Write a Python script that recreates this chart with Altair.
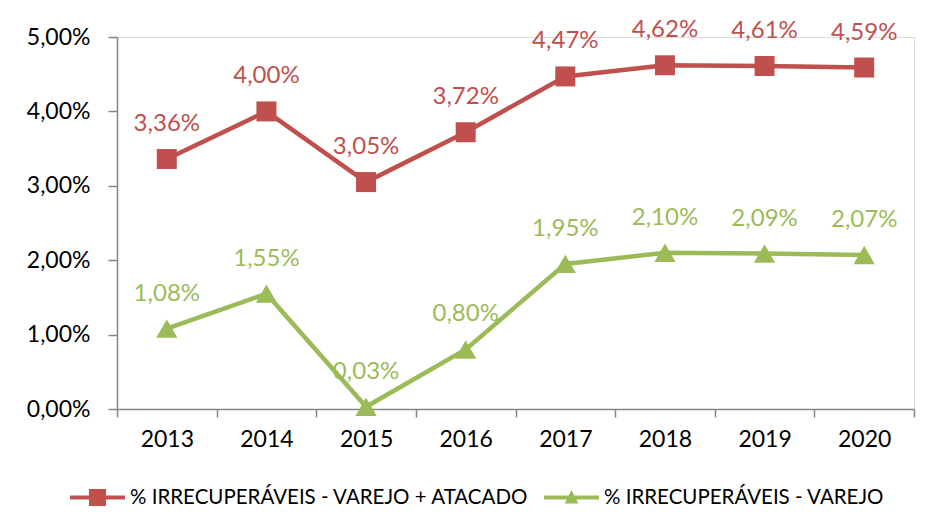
import altair as alt
import pandas as pd

anos = ["2013", "2014", "2015", "2016", "2017", "2018", "2019", "2020"]
varejo_atacado = [3.36, 4.00, 3.05, 3.72, 4.47, 4.62, 4.61, 4.59]
varejo = [1.08, 1.55, 0.03, 0.80, 1.95, 2.10, 2.09, 2.07]
series = ["% IRRECUPERÁVEIS - VAREJO + ATACADO", "% IRRECUPERÁVEIS - VAREJO"]
cores = ["#C0504D", "#9BBB59"]
marcadores = ["square", "triangle-up"]
tamanhos = [400, 450]
y_ticks = [0.0, 0.01, 0.02, 0.03, 0.04, 0.05]

# legend symbols: line with marker in the middle
leg_sq = "M-1,-0.073L1,-0.073L1,0.073L-1,0.073Z M-0.31,-0.31L0.31,-0.31L0.31,0.31L-0.31,0.31Z"
leg_tri = "M-1,-0.073L1,-0.073L1,0.073L-1,0.073Z M0,-0.27L0.25,0.22L-0.25,0.22Z"

rows = []
for s, vals in zip(series, [varejo_atacado, varejo]):
    for a, v in zip(anos, vals):
        rows.append({"ano": a, "serie": s, "valor": v / 100})
df = pd.DataFrame(rows)

FONT = "Lato"
AX = "#868686"

x_enc = alt.X(
    "ano:N",
    scale=alt.Scale(type="band", domain=anos, paddingInner=0, paddingOuter=0),
    axis=alt.Axis(
        title=None, labelAngle=0, tickBand="extent", domainColor=AX, tickColor=AX,
        domainWidth=1.5, tickWidth=1.5, tickSize=8, labelFontSize=23, labelFont=FONT,
        labelColor="#000000", labelPadding=11, grid=False,
    ),
)
y_enc = alt.Y(
    "valor:Q",
    scale=alt.Scale(domain=[0, 0.05], nice=False, zero=True),
    axis=alt.Axis(
        title=None, values=y_ticks, format=".2%", domainColor=AX, tickColor=AX,
        domainWidth=1.5, tickWidth=1.5, tickSize=9, labelFontSize=23, labelFont=FONT,
        labelColor="#000000", labelPadding=18, grid=False,
    ),
)

base = alt.Chart(df)
layers = []
for s, c in zip(series, cores):
    layers.append(
        base.transform_filter(alt.datum.serie == s)
        .mark_line(strokeWidth=4.5, color=c)
        .encode(x=x_enc, y=y_enc)
    )
for s, c, m, sz in zip(series, cores, marcadores, tamanhos):
    layers.append(
        base.transform_filter(alt.datum.serie == s)
        .mark_point(filled=True, opacity=1, color=c, shape=m, size=sz)
        .encode(x=x_enc, y=y_enc)
    )
for s, c in zip(series, cores):
    layers.append(
        base.transform_filter(alt.datum.serie == s)
        .mark_text(color=c, fontSize=24, font=FONT, dy=-35)
        .encode(x=x_enc, y=y_enc, text=alt.Text("valor:Q", format=".2%"))
    )

legend_layer = (
    base.transform_filter("false")
    .mark_point(filled=True, opacity=1)
    .encode(
        x=x_enc,
        y=y_enc,
        color=alt.Color(
            "serie:N",
            scale=alt.Scale(domain=series, range=cores),
            legend=alt.Legend(
                title=None, orient="none", direction="horizontal",
                legendX=-47, legendY=433, padding=0, symbolSize=3025,
                symbolStrokeWidth=0, labelFontSize=20.5, labelFont=FONT,
                labelColor="#000000", labelOffset=5, columnPadding=15,
                labelLimit=1000,
            ),
        ),
        shape=alt.Shape("serie:N", scale=alt.Scale(domain=series, range=[leg_sq, leg_tri])),
    )
)
layers.append(legend_layer)

chart = (
    alt.layer(*layers)
    .properties(
        width=797, height=372,
        autosize=alt.AutoSizeParams(type="none"),
        padding={"left": 109, "top": 29, "right": 8, "bottom": 113},
        background="#ffffff",
    )
    .configure_view(stroke=None)
    .configure(locale={"number": {"decimal": ",", "thousands": ".", "grouping": [3], "currency": ["R$", ""]}})
)

chart.save("out.html", embed_options={"renderer": "svg", "actions": False})
